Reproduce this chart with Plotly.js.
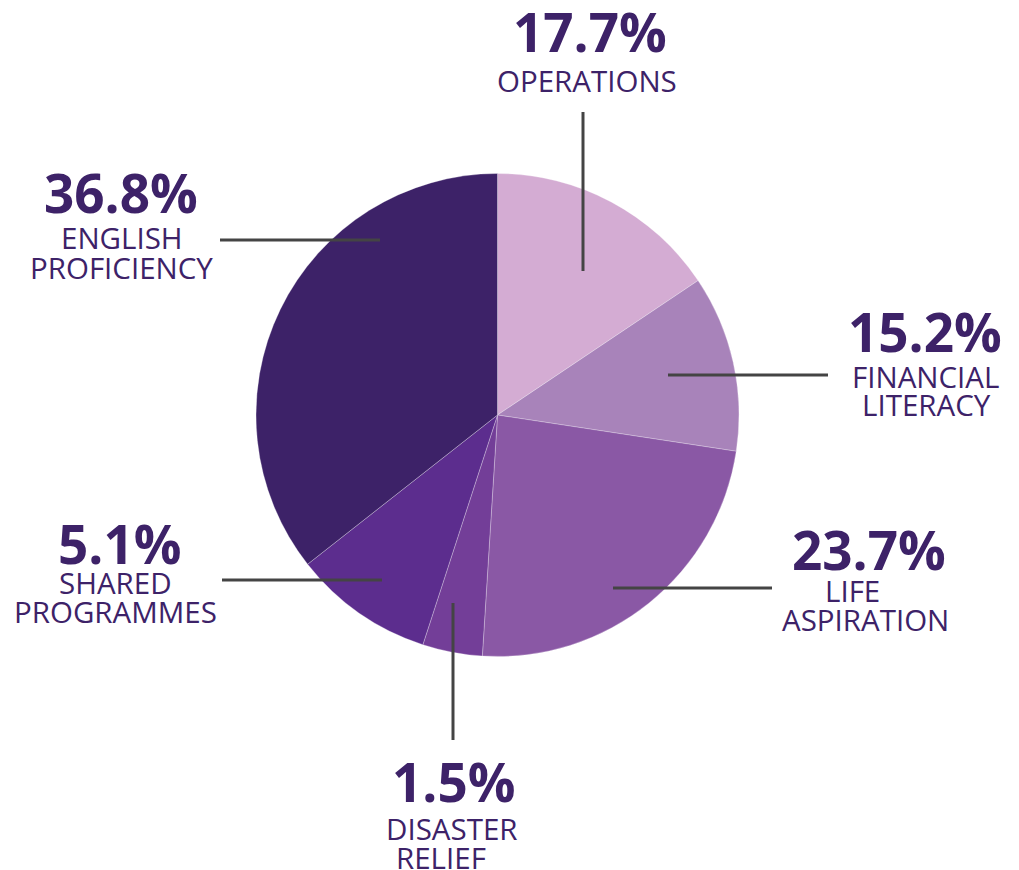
<!DOCTYPE html>
<html>
<head>
<meta charset="utf-8">
<script src="https://cdn.plot.ly/plotly-3.0.1.min.js"></script>
<style>html,body{margin:0;padding:0;background:#fff;}#chart{width:1019px;height:870px;}</style>
</head>
<body>
<div id="chart"></div>
<script>
// Categories (clockwise from 12 o'clock)
const categories = ['OPERATIONS', 'FINANCIAL LITERACY', 'LIFE ASPIRATION', 'DISASTER RELIEF', 'SHARED PROGRAMMES', 'ENGLISH PROFICIENCY'];
// Slice sizes as drawn in the picture (%)
const sliceShares = [15.6, 11.8, 23.6, 4.0, 9.4, 35.6];
// Percentages printed on the labels
const labelPct = ['17.7%', '15.2%', '23.7%', '1.5%', '5.1%', '36.8%'];
// Label lines
const labelLines = [['OPERATIONS'], ['FINANCIAL', 'LITERACY'], ['LIFE', 'ASPIRATION'], ['DISASTER', 'RELIEF'], ['SHARED', 'PROGRAMMES'], ['ENGLISH', 'PROFICIENCY']];
const sliceColors = ['#d4acd3', '#a883ba', '#8a58a5', '#733e98', '#5c2d8e', '#3d2268'];

const W = 1019, H = 870;
const px = x => x / W;
const py = y => 1 - y / H;

// label layout (pixel positions of text blocks)
const pctPos = [[590, 31], [925, 331], [869, 549], [453, 781], [119, 543], [121, 192]];
const linePos = [
  [[587, 80]],
  [[925, 376], [926, 405]],
  [[852, 590], [865, 619]],
  [[452, 828], [441, 857]],
  [[115, 582], [115, 611]],
  [[122, 238], [121, 267]]
];
const leaders = [
  [583, 112, 583, 271],
  [668, 375, 828, 375],
  [613, 588, 772, 588],
  [453, 603, 453, 740],
  [222, 580, 382, 580],
  [220, 240, 380, 240]
];

const textColor = '#3d2268';
const annotations = [];
labelPct.forEach((t, i) => {
  annotations.push({
    text: t, x: px(pctPos[i][0]), y: py(pctPos[i][1]), xref: 'paper', yref: 'paper',
    xanchor: 'center', yanchor: 'middle', showarrow: false,
    font: {family: 'Open Sans, Noto Sans, sans-serif', size: 53, weight: 700, color: textColor}
  });
  labelLines[i].forEach((ln, j) => {
    annotations.push({
      text: ln, x: px(linePos[i][j][0]), y: py(linePos[i][j][1]), xref: 'paper', yref: 'paper',
      xanchor: 'center', yanchor: 'middle', showarrow: false,
      font: {family: 'Open Sans, Noto Sans, sans-serif', size: 29.5, color: textColor}
    });
  });
});

const shapes = leaders.map(l => ({
  type: 'line', xref: 'paper', yref: 'paper',
  x0: px(l[0]), y0: py(l[1]), x1: px(l[2]), y1: py(l[3]),
  line: {color: '#444444', width: 3}
}));

const cx = 497.5, cy = 415, r = 241.5;
const trace = {
  type: 'pie',
  labels: categories,
  values: sliceShares,
  sort: false,
  direction: 'clockwise',
  rotation: 0,
  textinfo: 'none',
  hoverinfo: 'label',
  marker: {colors: sliceColors, line: {color: 'rgba(255,255,255,0.35)', width: 0.8}},
  domain: {x: [px(cx - r), px(cx + r)], y: [py(cy + r), py(cy - r)]},
  showlegend: false
};

const layout = {
  width: W, height: H,
  margin: {l: 0, r: 0, t: 0, b: 0},
  paper_bgcolor: '#ffffff',
  showlegend: false,
  annotations: annotations,
  shapes: shapes
};

Plotly.newPlot('chart', [trace], layout, {displayModeBar: false, staticPlot: true});
</script>
</body>
</html>
